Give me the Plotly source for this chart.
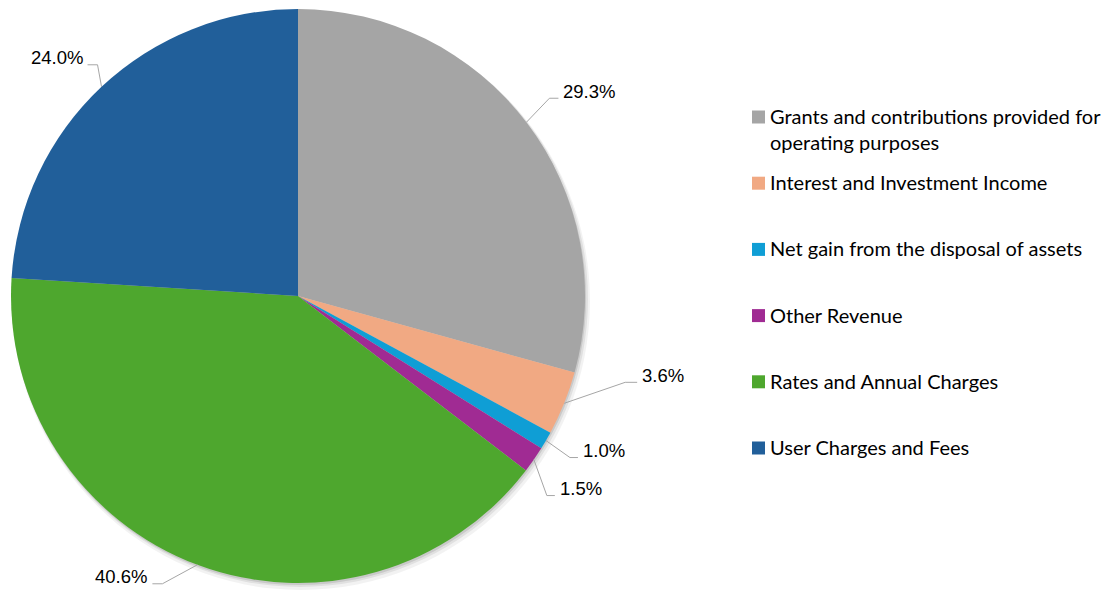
import math
import plotly.graph_objects as go

# ---- data ----
categories = [
    "Grants and contributions provided for operating purposes",
    "Interest and Investment Income",
    "Net gain from the disposal of assets",
    "Other Revenue",
    "Rates and Annual Charges",
    "User Charges and Fees",
]
legend_labels = [
    "Grants and contributions provided for<br>operating purposes",
    "Interest and Investment Income",
    "Net gain from the disposal of assets",
    "Other Revenue",
    "Rates and Annual Charges",
    "User Charges and Fees",
]
values = [29.3, 3.6, 1.0, 1.5, 40.6, 24.0]
colors = ["#A5A5A5", "#F1A983", "#0F9ED5", "#A02B93", "#4EA72E", "#215F9A"]

# ---- layout constants (pixels) ----
W, H = 1113, 592
CX, CY, R = 298, 296, 287

# label leader styling: elbow offset from slice edge (dx, dy), horizontal stub length
label_style = [
    (23, -24, 9),
    (61, -21, 12),
    (24, 17, 8),
    (13, 36, 8),
    (-35, 19, -10),
    (-4, -22, -10),
]

def px(x):
    return x / W

def py(y):
    return 1 - y / H

fig = go.Figure()

# soft shadow layers
for i, (ox, oy, op) in enumerate([(1, 2, 0.10), (2, 3, 0.07), (3, 5, 0.05)]):
    rr = R + i
    fig.add_trace(go.Pie(
        values=[1], labels=["shadow"], sort=False,
        marker=dict(colors=[f"rgba(0,0,0,{op})"], line=dict(width=0)),
        textinfo="none", hoverinfo="skip", showlegend=False,
        domain=dict(x=[px(CX + ox - rr), px(CX + ox + rr)],
                    y=[py(CY + oy + rr), py(CY + oy - rr)]),
    ))

fig.add_trace(go.Pie(
    labels=categories, values=values, sort=False, direction="clockwise", rotation=0,
    marker=dict(colors=colors, line=dict(width=0)),
    textinfo="none", showlegend=False,
    domain=dict(x=[px(CX - R), px(CX + R)], y=[py(CY + R), py(CY - R)]),
))

shapes = []
annotations = []
total = sum(values)
cum = 0.0
for v, (dx, dy, stub) in zip(values, label_style):
    mid = (cum + v / 2) / total * 2 * math.pi
    cum += v
    ex = CX + R * math.sin(mid)
    ey = CY - R * math.cos(mid)
    elx, ely = ex + dx, ey + dy
    sx = elx + stub
    shapes.append(dict(
        type="path", xref="paper", yref="paper",
        path=f"M {px(ex)} {py(ey)} L {px(elx)} {py(ely)} L {px(sx)} {py(ely)}",
        line=dict(color="#A6A6A6", width=1),
    ))
    right = stub > 0
    annotations.append(dict(
        x=px(sx + (3 if right else -3)), y=py(ely - 7), xref="paper", yref="paper",
        text=f"{v / total * 100:.1f}%", showarrow=False,
        xanchor="left" if right else "right", yanchor="middle",
        font=dict(family="Liberation Sans, Arial", size=18.5, color="#000000"),
    ))

# manual legend
LEG_X, LEG_Y0, LEG_STEP, SQ = 752, 117, 66.2, 13
for i, (lab, c) in enumerate(zip(legend_labels, colors)):
    yc = LEG_Y0 + i * LEG_STEP
    shapes.append(dict(
        type="rect", xref="paper", yref="paper",
        x0=px(LEG_X), x1=px(LEG_X + SQ), y0=py(yc - SQ / 2), y1=py(yc + SQ / 2),
        fillcolor=c, line=dict(width=0),
    ))
    annotations.append(dict(
        x=px(LEG_X + 16), y=py(yc), xref="paper", yref="paper",
        text=lab, showarrow=False, xanchor="left",
        yanchor="top" if "<br>" in lab else "middle",
        yshift=15 if "<br>" in lab else 1,
        align="left",
        font=dict(family="Lato, Open Sans", size=20, color="#000000"),
    ))

fig.update_layout(
    width=W, height=H,
    margin=dict(l=0, r=0, t=0, b=0),
    paper_bgcolor="white", plot_bgcolor="white",
    showlegend=False,
    shapes=shapes, annotations=annotations,
)

fig.write_html("out.html")
